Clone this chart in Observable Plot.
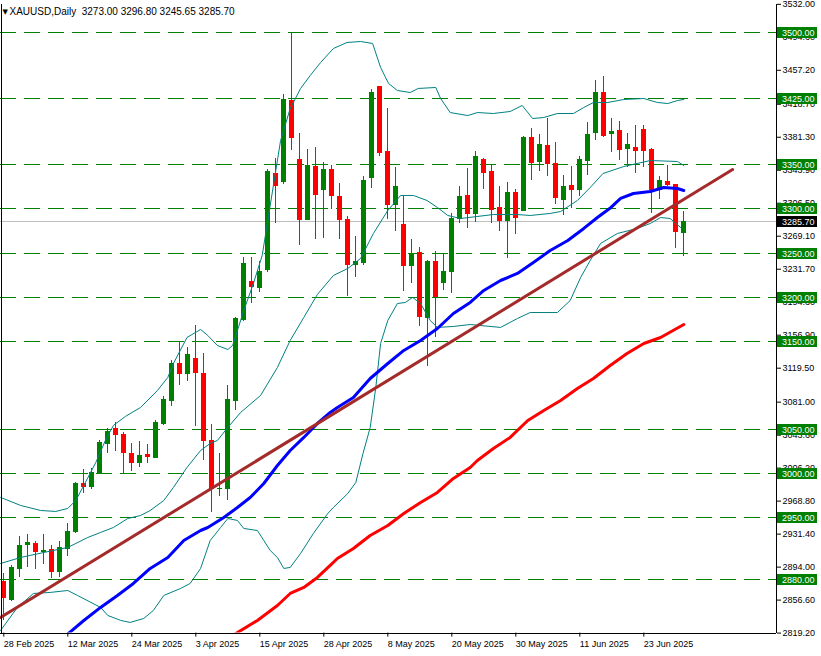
<!DOCTYPE html>
<html><head><meta charset="utf-8">
<script src="https://cdn.jsdelivr.net/npm/d3@7"></script>
<script src="https://cdn.jsdelivr.net/npm/@observablehq/plot@0.6"></script>
<style>
html,body{margin:0;padding:0;background:#fff;}
#chart{width:821px;height:656px;overflow:hidden;}
svg{display:block;}
</style></head><body><div id="chart"></div>
<script>
// ---- data ----
const titleText = "XAUUSD,Daily  3273.00 3296.80 3245.65 3285.70";
const dates = ["2025-02-28","2025-03-03","2025-03-04","2025-03-05","2025-03-06","2025-03-07","2025-03-10","2025-03-11","2025-03-12","2025-03-13","2025-03-14","2025-03-17","2025-03-18","2025-03-19","2025-03-20","2025-03-21","2025-03-24","2025-03-25","2025-03-26","2025-03-27","2025-03-28","2025-03-31","2025-04-01","2025-04-02","2025-04-03","2025-04-04","2025-04-07","2025-04-08","2025-04-09","2025-04-10","2025-04-11","2025-04-14","2025-04-15","2025-04-16","2025-04-17","2025-04-21","2025-04-22","2025-04-23","2025-04-24","2025-04-25","2025-04-28","2025-04-29","2025-04-30","2025-05-01","2025-05-02","2025-05-05","2025-05-06","2025-05-07","2025-05-08","2025-05-09","2025-05-12","2025-05-13","2025-05-14","2025-05-15","2025-05-16","2025-05-19","2025-05-20","2025-05-21","2025-05-22","2025-05-23","2025-05-26","2025-05-27","2025-05-28","2025-05-29","2025-05-30","2025-06-02","2025-06-03","2025-06-04","2025-06-05","2025-06-06","2025-06-09","2025-06-10","2025-06-11","2025-06-12","2025-06-13","2025-06-16","2025-06-17","2025-06-18","2025-06-19","2025-06-20","2025-06-23","2025-06-24","2025-06-25","2025-06-26","2025-06-27","2025-06-30"];
const openP  = [2877,2857,2892,2919,2920,2911,2913,2888,2915,2934,2988,2985,3000,3033,3050,3044,3022,3012,3021,3018,3056,3082,3124,3113,3130,3113,3037,2982,2982,3082,3174,3217,3210,3231,3340,3330,3422,3355,3288,3348,3322,3344,3314,3288,3237,3239,3335,3438,3365,3305,3282,3235,3250,3176,3240,3216,3228,3289,3315,3294,3356,3342,3301,3286,3318,3298,3381,3353,3371,3351,3310,3326,3322,3354,3386,3432,3385,3388,3368,3369,3389,3367,3322,3331,3327,3273.00];
const highP  = [2887,2896,2929,2931,2923,2931,2918,2923,2944,2990,3005,3006,3038,3051,3058,3047,3034,3036,3033,3060,3087,3128,3149,3143,3168,3136,3056,3023,3100,3177,3245,3245,3240,3345,3357,3430,3499,3385,3367,3370,3353,3349,3329,3291,3269,3337,3435,3439,3414,3347,3314,3265,3256,3242,3252,3250,3295,3325,3346,3365,3357,3349,3325,3330,3322,3382,3391,3384,3402,3375,3338,3348,3359,3398,3446,3450,3402,3399,3386,3395,3395,3368,3337,3349,3328,3296.80];
const lowP   = [2833,2855,2882,2894,2891,2897,2881,2882,2906,2932,2977,2982,2999,3023,3025,3000,3002,3007,3011,3018,3055,3076,3100,3104,3053,3015,2956,2974,2970,3071,3172,3193,3205,3228,3283,3328,3366,3259,3287,3265,3267,3299,3265,3201,3222,3236,3323,3359,3288,3274,3207,3215,3167,3121,3154,3208,3204,3284,3278,3285,3322,3284,3274,3244,3271,3297,3332,3343,3337,3305,3293,3301,3314,3338,3378,3381,3364,3355,3347,3340,3347,3295,3311,3326,3255,3245.65];
const closeP = [2859,2893,2918,2921,2911,2912,2888,2916,2934,2988,2985,3001,3035,3047,3044,3023,3012,3020,3019,3057,3084,3124,3113,3135,3114,3037,2982,2983,3083,3175,3238,3211,3228,3342,3326,3424,3380,3288,3349,3316,3344,3315,3287,3237,3240,3332,3431,3363,3305,3325,3235,3249,3177,3240,3200,3229,3289,3314,3294,3359,3341,3299,3286,3318,3290,3381,3352,3372,3351,3312,3325,3322,3355,3384,3432,3383,3387,3367,3373,3366,3366,3322,3332,3327,3274,3285.70];

// indicator lines: [bar index, price]
const bbUpper = [[-0.4,2973.0],[2.1,2963.9],[4.6,2958.2],[6.5,2957.1],[8.0,2960.5],[9.0,2969.6],[10.2,2990.0],[11.5,3012.6],[12.7,3037.6],[13.7,3054.6],[15.2,3064.8],[17.1,3075.0],[19.2,3094.2],[20.5,3109.0],[21.2,3124.8],[22.9,3154.3],[24.6,3163.4],[25.5,3156.6],[26.7,3145.2],[28.0,3140.7],[28.6,3145.2],[29.2,3162.2],[30.0,3184.9],[31.2,3215.5],[32.3,3247.3],[33.3,3303.9],[34.6,3377.6],[35.8,3413.9],[37.1,3436.6],[38.3,3451.3],[39.6,3466.0],[41.2,3481.9],[42.9,3488.7],[44.6,3489.8],[46.1,3487.6],[47.1,3460.4],[48.1,3442.2],[49.2,3434.3],[50.8,3432.0],[51.8,3436.6],[54.0,3437.7],[54.6,3425.2],[55.8,3409.3],[58.0,3405.9],[59.2,3409.3],[61.2,3408.2],[63.3,3410.5],[64.8,3417.3],[66.1,3402.5],[67.5,3403.7],[69.2,3408.2],[71.2,3408.2],[72.5,3415.0],[73.7,3420.7],[75.5,3420.7],[77.5,3424.1],[80.0,3425.2],[81.7,3420.7],[83.0,3419.5],[84.2,3422.9],[85.0,3424.1]];
const bbMiddle = [[-0.4,2898.1],[2.1,2904.9],[5.0,2910.6],[8.0,2916.3],[10.5,2927.6],[12.1,2933.3],[13.7,2938.9],[15.5,2949.1],[17.1,2952.5],[18.3,2958.2],[20.0,2969.5],[21.2,2984.3],[22.9,3007.0],[24.6,3026.2],[25.8,3034.2],[26.7,3037.6],[28.0,3052.3],[29.6,3069.3],[32.1,3088.6],[34.2,3120.3],[35.8,3150.9],[37.5,3177.0],[39.2,3203.1],[41.2,3224.6],[43.0,3232.5],[44.6,3243.9],[46.2,3272.2],[48.0,3298.3],[49.6,3315.3],[51.2,3315.3],[52.9,3309.6],[54.2,3301.7],[55.5,3292.6],[57.1,3289.2],[61.2,3293.7],[64.2,3293.7],[65.8,3292.6],[68.3,3294.9],[69.6,3297.1],[71.7,3309.6],[73.3,3324.3],[74.9,3340.2],[77.5,3348.1],[80.8,3354.9],[84.2,3353.8],[85.0,3349.3]];
const bbLower = [[-0.4,2822.2],[1.7,2848.3],[3.7,2864.1],[5.8,2865.3],[8.0,2867.5],[9.2,2861.9],[12.1,2848.3],[13.0,2839.2],[14.6,2833.6],[15.8,2831.3],[17.5,2835.8],[18.7,2844.9],[20.0,2861.9],[22.1,2869.8],[23.3,2875.5],[24.6,2892.5],[25.8,2924.2],[27.1,2938.9],[28.0,2949.1],[29.2,2946.9],[30.0,2937.8],[31.7,2935.5],[32.5,2924.2],[33.3,2912.9],[34.2,2904.9],[35.0,2892.5],[35.8,2893.6],[37.1,2909.5],[38.7,2932.2],[40.5,2954.8],[41.2,2961.6],[43.0,2977.5],[44.0,2989.9],[44.9,3022.8],[45.8,3052.3],[46.5,3097.6],[47.1,3147.5],[48.0,3173.6],[49.2,3192.8],[50.2,3194.0],[51.1,3199.7],[52.1,3192.8],[53.3,3173.6],[54.2,3165.7],[56.2,3166.8],[58.3,3169.0],[62.1,3165.7],[64.2,3175.8],[65.8,3182.6],[69.2,3182.6],[70.8,3196.2],[72.1,3222.3],[73.3,3241.6],[74.6,3260.9],[76.7,3272.2],[79.2,3277.9],[80.8,3283.5],[82.1,3290.3],[83.3,3289.2],[84.6,3279.0]];
const maBlue = [[7.5,2814.3],[10.0,2833.5],[12.1,2848.3],[14.2,2861.9],[16.2,2875.5],[18.3,2892.5],[20.5,2904.9],[22.5,2924.2],[24.6,2935.5],[25.5,2938.9],[27.5,2950.3],[29.2,2961.6],[30.8,2972.9],[32.5,2988.8],[34.2,3009.2],[35.8,3026.2],[37.5,3041.0],[39.2,3056.8],[40.8,3069.3],[41.7,3075.0],[43.7,3086.3],[45.8,3107.8],[48.0,3124.8],[50.0,3139.6],[52.1,3150.9],[54.2,3164.5],[56.2,3181.5],[58.3,3194.0],[60.0,3207.6],[62.1,3218.9],[64.2,3226.9],[66.2,3239.3],[68.3,3252.9],[70.5,3264.3],[72.5,3277.9],[74.2,3290.3],[75.9,3301.7],[77.1,3311.9],[78.7,3317.5],[80.8,3319.8],[82.5,3324.3],[84.2,3323.2],[85.0,3320.9]];
const maRed = [[28.6,2816.5],[31.7,2833.5],[34.2,2850.5],[35.8,2864.1],[37.5,2870.9],[39.2,2882.3],[40.8,2895.9],[41.7,2903.8],[43.7,2915.1],[45.8,2929.9],[48.0,2941.2],[50.0,2954.8],[52.1,2967.3],[54.2,2978.6],[56.2,2994.5],[58.3,3006.9],[59.2,3014.9],[61.2,3028.5],[63.3,3041.0],[65.5,3060.2],[67.5,3071.6],[69.6,3082.9],[71.7,3096.5],[73.7,3107.8],[75.8,3122.6],[77.9,3136.2],[80.0,3147.5],[82.1,3154.3],[85.0,3169.0]];
const trendLine = [[-0.41,2836.9],[91.1,3344.7]];

const levelPrices = [3500,3425,3350,3300,3250,3200,3150,3050,3000,2950,2880];
const lastPrice = 3285.70;
const priceTicks = [3532.00,3494.60,3457.20,3418.70,3381.30,3343.90,3306.50,3269.10,3231.70,3194.30,3156.90,3119.50,3081.00,3043.60,3006.20,2968.80,2931.40,2894.00,2856.60,2819.20];
const dateTickIdx = [0,8,16,24,32,40,48,56,64,72,80];
const dateTickLabels = ["28 Feb 2025","12 Mar 2025","24 Mar 2025","3 Apr 2025","15 Apr 2025","28 Apr 2025","8 May 2025","20 May 2025","30 May 2025","11 Jun 2025","23 Jun 2025"];

// ---- build ----
const candles = dates.map((d, i) => ({i, date: d, o: openP[i], h: highP[i], l: lowP[i], c: closeP[i]}));
const col = d => d.c >= d.o ? "#008000" : "#ff0000";
const pts = arr => arr.map(([x, y]) => ({x, y}));
const X0 = -0.4125, X1 = 96.5875, Y0 = 2819.2, Y1 = 3532;

const plot = Plot.plot({
  width: 821, height: 656,
  marginLeft: 0, marginRight: 45, marginTop: 3.8, marginBottom: 23.4,
  style: {fontFamily: "'Liberation Sans', Arial, sans-serif", fontSize: "9px", color: "#000", background: "#fff"},
  x: {type: "linear", domain: [X0, X1]},
  y: {type: "linear", domain: [Y0, Y1]},
  marks: [
    Plot.ruleY(levelPrices, {y: d => d, stroke: "#008000", strokeDasharray: "16,8", shapeRendering: "crispEdges"}),
    Plot.ruleY([lastPrice], {y: d => d, stroke: "#c0c0c0", shapeRendering: "crispEdges"}),
    Plot.ruleX(candles, {x: "i", y1: "l", y2: "h", stroke: col, strokeWidth: 1, shapeRendering: "crispEdges"}),
    Plot.rect(candles, {x1: d => d.i - 0.3125, x2: d => d.i + 0.3125, y1: d => Math.min(d.o, d.c), y2: d => Math.max(d.o, d.c), fill: col, insetTop: -0.5, insetBottom: -0.5, shapeRendering: "crispEdges"}),
    Plot.line(pts(bbUpper), {x: "x", y: "y", stroke: "#008080", strokeWidth: 1, clip: true}),
    Plot.line(pts(bbMiddle), {x: "x", y: "y", stroke: "#008080", strokeWidth: 1, clip: true}),
    Plot.line(pts(bbLower), {x: "x", y: "y", stroke: "#008080", strokeWidth: 1, clip: true}),
    Plot.line(pts(maRed), {x: "x", y: "y", stroke: "#ff0000", strokeWidth: 3, clip: true}),
    Plot.line(pts(maBlue), {x: "x", y: "y", stroke: "#0000ff", strokeWidth: 3, clip: true}),
    Plot.line(pts(trendLine), {x: "x", y: "y", stroke: "#a52a2a", strokeWidth: 3, clip: true}),
    Plot.ruleY([Y0], {stroke: "#000", dy: 0.5, shapeRendering: "crispEdges"}),
    Plot.ruleX([X1], {stroke: "#000", shapeRendering: "crispEdges"}),
    Plot.ruleX([X0], {stroke: "#000", dx: 0.5, shapeRendering: "crispEdges"}),
    Plot.axisY(priceTicks, {anchor: "right", tickSize: 4, tickPadding: 2, tickFormat: d => d.toFixed(2), fill: "#000", fontSize: 9}),
    Plot.axisX(dateTickIdx, {anchor: "bottom", tickSize: 4, tickPadding: 4, textAnchor: "start", tickFormat: d => dateTickLabels[dateTickIdx.indexOf(d)], fill: "#000", fontSize: 9}),
    Plot.text([titleText], {text: d => d, frameAnchor: "top-left", dx: 9, dy: 3.2, lineAnchor: "top", textAnchor: "start", fontSize: 10, fill: "#000"}),
    Plot.text(["\u25BC"], {text: d => d, frameAnchor: "top-left", dx: 2, dy: 4.5, lineAnchor: "top", textAnchor: "start", fontSize: 7, fill: "#000", fontFamily: "DejaVu Sans"})
  ]
});

// price label boxes on the right axis, placed with the plot's own y scale
const yS = plot.scale("y");
const boxes = levelPrices.map(v => ({v, label: v.toFixed(2), fill: "#008000"}))
  .concat([{v: lastPrice, label: lastPrice.toFixed(2), fill: "#000"}]);
const g = d3.select(plot).append("g")
  .attr("font-family", "'Liberation Sans', Arial, sans-serif").attr("font-size", 9)
  .attr("text-anchor", "start");
g.selectAll("rect").data(boxes).join("rect")
  .attr("x", 777).attr("y", d => Math.round(yS.apply(d.v)) - 5)
  .attr("width", 40).attr("height", 11).attr("fill", d => d.fill);
g.selectAll("text").data(boxes).join("text")
  .attr("x", 782).attr("y", d => Math.round(yS.apply(d.v)) + 0.5).attr("dy", "0.34em")
  .attr("text-anchor", "start")
  .attr("fill", "#fff").text(d => d.label);

document.getElementById("chart").appendChild(plot);
</script>
</body></html>
